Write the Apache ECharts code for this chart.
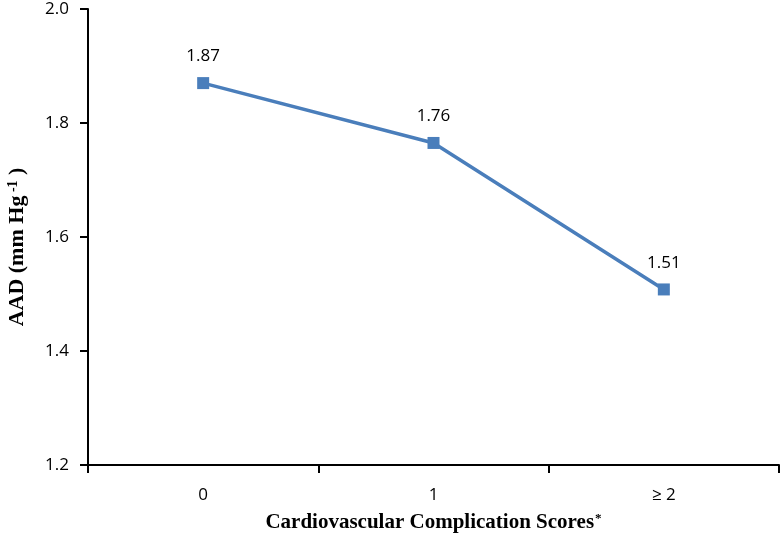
<!DOCTYPE html>
<html>
<head>
<meta charset="utf-8">
<script src="https://cdn.jsdelivr.net/npm/echarts@6/dist/echarts.min.js"></script>
<style>
  html, body { margin: 0; padding: 0; background: #fff; }
  #chart { width: 782px; height: 538px; }
</style>
</head>
<body>
<div id="chart"></div>
<script>
const categories = ["0", "1", "\u2265 2"];
const aadValues = [1.87, 1.765, 1.508];
const pointLabels = ["1.87", "1.76", "1.51"];

const myChart = echarts.init(document.getElementById("chart"));

const option = {
  animation: false,
  grid: { left: 88, right: 3, top: 9, bottom: 73, containLabel: false, outerBoundsMode: "none" },
  xAxis: {
    type: "category",
    data: categories,
    boundaryGap: true,
    name: "{b|Cardiovascular Complication Scores}{sup|*}",
    nameLocation: "middle",
    nameGap: 47,
    nameMoveOverlap: false,
    nameTextStyle: {
      rich: {
        b: { fontFamily: "Liberation Serif", fontWeight: "bold", fontSize: 21, color: "#000" },
        sup: { fontFamily: "Liberation Serif", fontWeight: "bold", fontSize: 13, color: "#000", verticalAlign: "top", padding: [0, 0, 9, 1] }
      }
    },
    axisLine: { lineStyle: { color: "#000", width: 2 } },
    axisTick: { show: true, inside: false, length: 8, alignWithLabel: false, lineStyle: { color: "#000", width: 2 } },
    axisLabel: { color: "#000", fontFamily: "Open Sans", fontSize: 17, margin: 22 },
    splitLine: { show: false }
  },
  yAxis: {
    type: "value",
    min: 1.2,
    max: 2.0,
    interval: 0.2,
    name: "{b|AAD (mm Hg}{sup| -1}{b| )}",
    nameLocation: "middle",
    nameGap: 59,
    nameMoveOverlap: false,
    nameRotate: 90,
    nameTextStyle: {
      padding: [0, 20, 0, 0],
      rich: {
        b: { fontFamily: "Liberation Serif", fontWeight: "bold", fontSize: 22, color: "#000" },
        sup: { fontFamily: "Liberation Serif", fontWeight: "bold", fontSize: 14, color: "#000", verticalAlign: "top", padding: [0, 0, 9, 0] }
      }
    },
    axisLine: { show: true, lineStyle: { color: "#000", width: 2 } },
    axisTick: { show: true, length: 8, lineStyle: { color: "#000", width: 2 } },
    axisLabel: {
      color: "#000", fontFamily: "Open Sans", fontSize: 17, margin: 19,
      formatter: v => v.toFixed(1)
    },
    splitLine: { show: false }
  },
  series: [
    {
      type: "line",
      data: aadValues,
      symbol: "rect",
      symbolSize: 12,
      itemStyle: { color: "#4a7ebb" },
      lineStyle: { color: "#4a7ebb", width: 3.5 },
      label: {
        show: true,
        position: "top",
        distance: 12,
        color: "#000",
        fontFamily: "Open Sans",
        fontSize: 17,
        formatter: p => pointLabels[p.dataIndex]
      }
    }
  ]
};

myChart.setOption(option);
</script>
</body>
</html>
